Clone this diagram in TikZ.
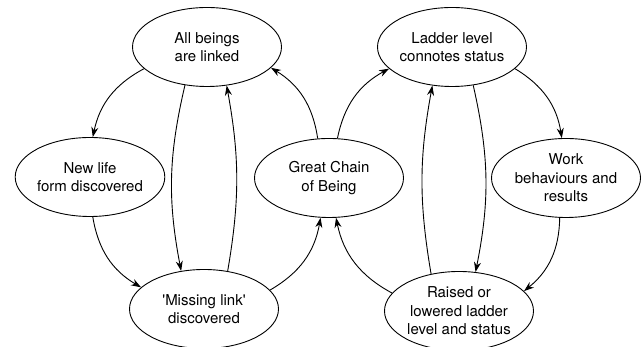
\documentclass[tikz,border=0pt]{standalone}
\usepackage{fontspec}
\setmainfont{TeX Gyre Heros}
\usetikzlibrary{shapes.geometric,arrows.meta}
\begin{document}
\begin{tikzpicture}[x=1pt,y=1pt]
\tikzstyle{state}=[draw,shape=ellipse,line width=0.9pt,minimum width=149pt,minimum height=79pt,inner sep=0pt,align=center,font=\fontsize{15}{18.5}\selectfont]
\tikzstyle{link}=[line width=0.9pt,-{Stealth[length=10pt,width=7pt]}]
\useasboundingbox (0,0) rectangle (644,347);
\path (207,300) node[state](linked){All beings\\are linked}
      (452,300) node[state](ladder){Ladder level\\connotes status}
      (90,170) node[state](newlife){New life\\form discovered}
      (329,169) node[state](chain){Great Chain\\of Being}
      (566,169) node[state](work){Work\\behaviours and\\results}
      (204,38) node[state](missing){\textquotesingle Missing link\textquotesingle\\discovered}
      (459,36) node[state](raised){Raised or\\lowered ladder\\level and status};
% left loop
\draw[link] (linked.199) to[bend right=25] (newlife.86);
\draw[link] (linked.240) to[bend right=12] (missing.121);
\draw[link] (missing.58) to[bend right=10] (linked.297);
\draw[link] (newlife.274) to[bend right=25] (missing.161);
\draw[link] (missing.16) to[bend right=25] (chain.258);
\draw[link] (chain.106) to[bend right=25] (linked.342);
% right loop
\draw[link] (chain.78) to[bend left=25] (ladder.199);
\draw[link] (raised.165) to[bend left=25] (chain.280);
\draw[link] (raised.127) to[bend left=10] (ladder.243);
\draw[link] (ladder.299) to[bend left=12] (raised.67);
\draw[link] (ladder.341) to[bend left=25] (work.96);
\draw[link] (work.261) to[bend left=25] (raised.17);
\end{tikzpicture}
\end{document}
